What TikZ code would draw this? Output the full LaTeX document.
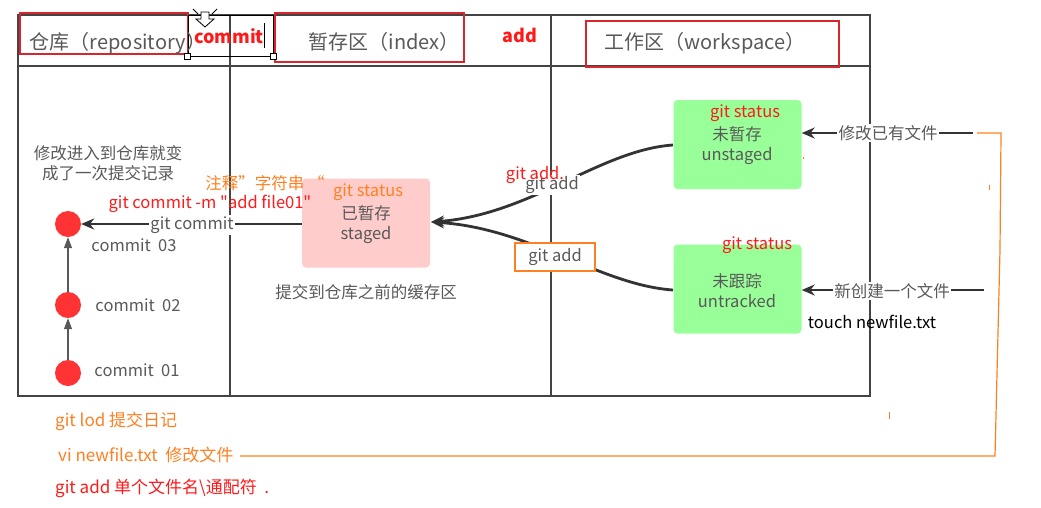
\documentclass[tikz,border=0pt]{standalone}
\usepackage{fontspec}
\setmainfont{Noto Sans CJK SC}[Ligatures=TeXOff]
\usetikzlibrary{arrows.meta}
\definecolor{framec}{HTML}{444444}
\definecolor{txtc}{HTML}{595959}
\definecolor{boxred}{HTML}{D9262E}
\definecolor{myorange}{HTML}{FF8022}
\definecolor{myred}{HTML}{FF1A1A}
\definecolor{pinkc}{HTML}{FFCCCC}
\definecolor{greenc}{HTML}{99FF99}
\definecolor{dotred}{HTML}{FF3333}
\definecolor{arrc}{HTML}{333333}
\tikzset{
  hdr/.style={font=\fontsize{20}{22}\selectfont, text=txtc, inner sep=0pt},
  body/.style={font=\fontsize{16.5}{18}\selectfont, text=txtc, inner sep=1pt},
  lbl/.style={font=\fontsize{16.5}{18}\selectfont, text=txtc, fill=white, inner sep=1.5pt},
  redt/.style={font=\fontsize{16.5}{18}\selectfont, text=myred, inner sep=0pt},
  orat/.style={font=\fontsize{16.5}{18}\selectfont, text=myorange, inner sep=0pt},
  boldred/.style={font=\fontsize{18}{20}\selectfont\bfseries, text=myred, inner sep=0pt},
  redframe/.style={draw=boxred, line width=2pt},
  cdot/.style={circle, fill=dotred, minimum size=26pt, inner sep=0pt},
  mainarrow/.style={draw=arrc, line width=2.8pt, -{Stealth[length=13pt,width=11pt]}},
  thinarrow/.style={draw=txtc, line width=1.2pt, -{Triangle[length=11pt,width=8pt]}, fill=arrc},
  statebox/.style={rounded corners=4pt, minimum width=128pt, minimum height=89pt, inner sep=0pt},
  handle/.style={draw=black, fill=white, line width=0.8pt, minimum size=6pt, inner sep=0pt}
}
\begin{document}
\begin{tikzpicture}[x=1pt,y=-1pt]
\useasboundingbox (0,0) rectangle (1041,507);
\fill[white] (0,0) rectangle (1041,507);

% frame
\draw[framec, line width=2.6pt] (18,15) rectangle (870,396);
\draw[framec, line width=2.6pt] (18,66) -- (870,66);
\draw[framec, line width=2.6pt] (230,15) -- (230,396);
\draw[framec, line width=2.6pt] (551,15) -- (551,396);

% header red frames
\draw[redframe] (20,13) rectangle (188,54);
\draw[redframe] (275,13) rectangle (464,62);
\draw[redframe] (586,21) rectangle (839,67);

% commit text box with handles
\draw[black, line width=0.8pt] (188,15) rectangle (273,56);
\node[handle] (h1) at (187,56) {};
\node[handle] (h2) at (273,56) {};
\draw[black, line width=1pt] (264,23) -- (264,48);
% move cursor
\draw[black, fill=white, line width=0.8pt] (201,12) -- (209,12) -- (209,19) -- (214,19) -- (205,27) -- (196,19) -- (201,19) -- cycle;
\draw[black, line width=0.8pt] (193,9) -- (198,14);
\draw[black, line width=0.8pt] (217,9) -- (212,14);

% header texts
\node[hdr] (repo) at (118,43) {仓库（repository）};
\node[boldred] (commitlbl) at (229,36) {commit};
\node[hdr] (index) at (384,42) {暂存区（index）};
\node[boldred] (addlbl) at (520,35) {add};
\node[hdr] (work) at (705,43) {工作区（workspace）};

% left column
\node[body] (note1) at (108,153) {修改进入到仓库就变};
\node[body] (note2) at (108,173) {成了一次提交记录};
\node[cdot] (c3) at (68,224) {};
\node[cdot] (c2) at (68,305) {};
\node[cdot] (c1) at (68,373) {};
\node[body] (l3) at (134,245) {commit\ \ 03};
\node[body] (l2) at (138,305) {commit\ \ 02};
\node[body] (l1) at (137,370) {commit\ \ 01};
\draw[thinarrow] (c1) -- (c2);
\draw[thinarrow] (c2) -- (c3);

% index column
\node[statebox, fill=pinkc] (staged) at (366,223) {};
\node[orat] (st1) at (368,192) {git status};
\node[body] (staged1) at (366,213) {已暂存};
\node[body] (staged2) at (366,235) {staged};
\node[body] (cache) at (366,292) {提交到仓库之前的缓存区};
\draw[mainarrow] (staged.west |- 0,224) -- (c3);
\node[lbl] (gc) at (192,225) {git commit};
\node[orat] (zs) at (265,183) {注释”字符串 “};
\node[redt] (gcm) at (210,204) {git commit -m "add file01"};

% workspace column
\node[statebox, fill=greenc] (unstaged) at (737.5,144.5) {};
\node[statebox, fill=greenc] (untracked) at (737.5,289) {};
\node[redt] (st2) at (745,113) {git status};
\node[body] (un1) at (737,134) {未暂存};
\node[body] (un2) at (737,156) {unstaged};
\node[redt] (st3) at (757,245) {git status};
\node[body] (ut1) at (737,281) {未跟踪};
\node[body] (ut2) at (737,301) {untracked};
\node[font=\fontsize{16.5}{18}\selectfont, text=black, inner sep=0pt] (touch) at (872,322) {touch newfile.txt};

% right incoming arrows
\coordinate (m1) at (973,133);
\coordinate (m2) at (984,290);
\draw[mainarrow] (m1) -- (unstaged.east |- m1);
\draw[mainarrow] (m2) -- (untracked.east |- m2);
\node[lbl] (mod) at (888,133) {修改已有文件};
\node[lbl] (new) at (892,291) {新创建一个文件};

% git add curves
\coordinate (a1) at (673,145);
\coordinate (a2) at (673,290);
\coordinate (sE) at (431,222);
\draw[mainarrow] (a1) .. controls (600,150) and (530,215) .. (sE);
\draw[mainarrow] (a2) .. controls (600,285) and (530,228) .. (sE);
\node[lbl] (ga1) at (552,185) {git add};
\node[lbl, draw=myorange, line width=1.2pt, minimum width=80pt, minimum height=28pt, inner sep=0pt] (ga2) at (555,257) {git add};
\node[redt] (ga3) at (535,175) {git add.};

% orange bracket line
\draw[myorange, line width=1.2pt] (977,133) -- (1001,133) -- (1000,250) -- (995,456) -- (240,456);
\draw[myorange, line width=1pt] (889,412) -- (889,419);
\draw[myorange, line width=1pt] (989,185) -- (989,190);
\draw[myorange, line width=1pt] (803,157) -- (803,159);

% bottom notes
\node[orat, anchor=west, font=\fontsize{17}{19}\selectfont] (n1) at (55,421) {git lod 提交日记};
\node[orat, anchor=west, font=\fontsize{17}{19}\selectfont] (n2) at (58,455) {vi newfile.txt\ \ 修改文件};
\node[redt, anchor=west, font=\fontsize{17}{19}\selectfont] (n3) at (55,488) {git add 单个文件名\textbackslash 通配符 \ .};
\end{tikzpicture}
\end{document}
